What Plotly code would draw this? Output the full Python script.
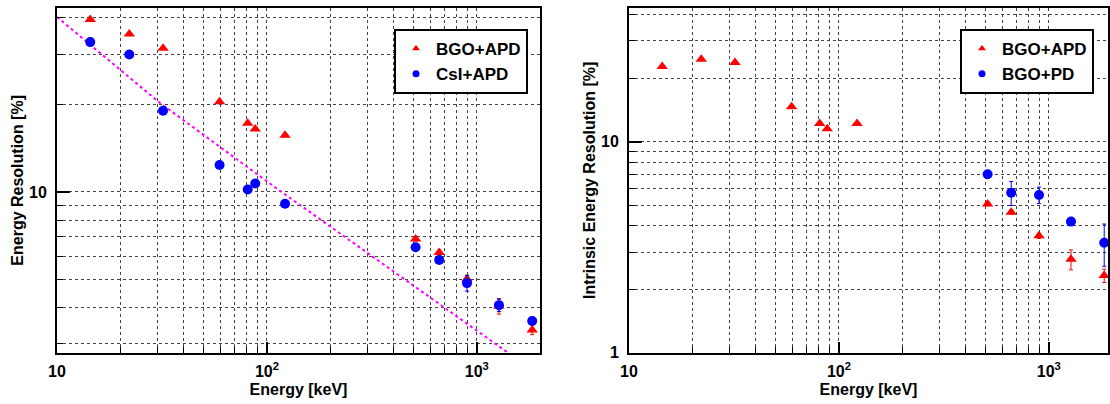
import math
import plotly.graph_objects as go

# ---------------- data ----------------
energy = [14.4, 22.1, 32.0, 59.5, 81.0, 88.0, 122.0, 511.0, 662.0, 898.0, 1275.0, 1836.0]

# left panel: energy resolution [%]
left_bgo_apd = [39.5, 35.2, 31.4, 20.5, 17.3, 16.5, 15.7, 6.88, 6.17, 5.0, 4.03, 3.33]
left_bgo_apd_err = [0.3, 0.3, 0.3, 0.2, 0.15, 0.15, 0.15, 0.12, 0.12, 0.15, 0.25, 0.12]
left_csi_apd = [33.0, 29.9, 19.1, 12.4, 10.2, 10.7, 9.1, 6.44, 5.82, 4.84, 4.06, 3.58]
left_csi_apd_err = [0.3, 0.25, 0.2, 0.15, 0.1, 0.1, 0.1, 0.1, 0.1, 0.3, 0.2, 0.1]

# reference curve (dotted magenta)
fit_energy = [10.0, 31.0, 111.0, 299.0, 998.0, 1406.0]
fit_res = [40.3, 20.3, 10.3, 6.17, 3.33, 2.78]

# right panel: intrinsic energy resolution [%]
right_bgo_apd = [22.7, 24.6, 23.7, 14.65, 12.2, 11.5, 12.2, 5.07, 4.63, 3.58, 2.77, 2.32]
right_bgo_apd_err = [0.3, 0.3, 0.3, 0.2, 0.15, 0.15, 0.15, 0.1, 0.1, 0.1, 0.3, 0.17]
energy_pd = [511.0, 662.0, 898.0, 1275.0, 1836.0]
right_bgo_pd = [7.01, 5.73, 5.59, 4.18, 3.32]
right_bgo_pd_err = [0.2, 0.75, 0.5, 0.1, 0.75]

x_major = [10, 100, 1000]
x_major_text = ["10", "10<sup>2</sup>", "10<sup>3</sup>"]
x_minor = [20, 30, 40, 50, 60, 70, 80, 90, 200, 300, 400, 500, 600, 700, 800, 900, 2000]
y_left_major = [10]
y_left_major_text = ["10"]
y_left_minor = [3, 4, 5, 6, 7, 8, 9, 20, 30, 40]
y_right_major = [1, 10]
y_right_major_text = ["1", "10"]
y_right_minor = [2, 3, 4, 5, 6, 7, 8, 9, 20, 30, 40]

RED = "#ff0000"
BLUE = "#0000ff"
FONT = "Liberation Sans, Arial, sans-serif"
W, H = 1110, 404


def bold(size):
    return dict(size=size, family=FONT, color="black", weight=700)


fig = go.Figure()

# left panel
fig.add_trace(go.Scatter(x=fit_energy, y=fit_res, mode="lines",
                         line=dict(color="#ff00ff", width=2, dash="dot"),
                         showlegend=False, xaxis="x", yaxis="y", hoverinfo="skip"))
fig.add_trace(go.Scatter(x=energy, y=left_bgo_apd, mode="markers", name="BGO+APD",
                         marker=dict(symbol="triangle-up", color=RED, size=10),
                         error_y=dict(type="data", array=left_bgo_apd_err, color=RED, thickness=1, width=2),
                         xaxis="x", yaxis="y", showlegend=False))
fig.add_trace(go.Scatter(x=energy, y=left_csi_apd, mode="markers", name="CsI+APD",
                         marker=dict(symbol="circle", color=BLUE, size=10),
                         error_y=dict(type="data", array=left_csi_apd_err, color=BLUE, thickness=1, width=2),
                         xaxis="x", yaxis="y", showlegend=False))
# legend entries (small markers as in the original)
fig.add_trace(go.Scatter(x=[None], y=[None], mode="markers", name="BGO+APD",
                         marker=dict(symbol="triangle-up", color=RED, size=7),
                         xaxis="x", yaxis="y", legend="legend"))
fig.add_trace(go.Scatter(x=[None], y=[None], mode="markers", name="CsI+APD",
                         marker=dict(symbol="circle", color=BLUE, size=7),
                         xaxis="x", yaxis="y", legend="legend"))

# right panel
fig.add_trace(go.Scatter(x=energy, y=right_bgo_apd, mode="markers", name="BGO+APD",
                         marker=dict(symbol="triangle-up", color=RED, size=10),
                         error_y=dict(type="data", array=right_bgo_apd_err, color=RED, thickness=1, width=2),
                         xaxis="x2", yaxis="y2", showlegend=False))
fig.add_trace(go.Scatter(x=energy_pd, y=right_bgo_pd, mode="markers", name="BGO+PD",
                         marker=dict(symbol="circle", color=BLUE, size=10),
                         error_y=dict(type="data", array=right_bgo_pd_err, color=BLUE, thickness=1, width=2),
                         xaxis="x2", yaxis="y2", showlegend=False))
fig.add_trace(go.Scatter(x=[None], y=[None], mode="markers", name="BGO+APD",
                         marker=dict(symbol="triangle-up", color=RED, size=7),
                         xaxis="x2", yaxis="y2", legend="legend2"))
fig.add_trace(go.Scatter(x=[None], y=[None], mode="markers", name="BGO+PD",
                         marker=dict(symbol="circle", color=BLUE, size=7),
                         xaxis="x2", yaxis="y2", legend="legend2"))

grid = dict(showgrid=True, gridcolor="#444444", griddash="dot", gridwidth=1)


def xaxis(domain, anchor, xmax):
    return dict(type="log", domain=domain, anchor=anchor, automargin=False,
                range=[1, math.log10(xmax)],
                tickmode="array", tickvals=x_major, ticktext=x_major_text,
                ticks="inside", ticklen=11, tickwidth=2, tickcolor="black",
                ticklabelstandoff=3,
                minor=dict(tickmode="array", tickvals=x_minor, ticks="inside", ticklen=6,
                           tickwidth=1, tickcolor="black", **grid),
                showline=True, linecolor="black", linewidth=2, mirror=True,
                zeroline=False,
                title=dict(text="Energy [keV]", font=bold(16), standoff=5),
                tickfont=bold(16),
                **grid)


def yaxis(domain, anchor, yrange, major, major_text, minor, title, standoff):
    return dict(type="log", domain=domain, anchor=anchor, automargin=False,
                range=[math.log10(yrange[0]), math.log10(yrange[1])],
                tickmode="array", tickvals=major, ticktext=major_text,
                ticks="inside", ticklen=13, tickwidth=2, tickcolor="black",
                ticklabelstandoff=5,
                minor=dict(tickmode="array", tickvals=minor, ticks="inside", ticklen=6,
                           tickwidth=1, tickcolor="black", **grid),
                showline=True, linecolor="black", linewidth=2, mirror=True,
                zeroline=False,
                title=dict(text=title, font=bold(16), standoff=standoff),
                tickfont=bold(16),
                **grid)


ydom = [1 - 352.7 / H, 1 - 8 / H]
fig.update_layout(
    width=W, height=H,
    margin=dict(l=0, r=0, t=0, b=0, autoexpand=False),
    paper_bgcolor="white", plot_bgcolor="white",
    font=bold(16),
    xaxis=xaxis([57 / W, 540 / W], "y", 2000),
    yaxis=yaxis(ydom, "x", [2.78, 43.3], y_left_major, y_left_major_text, y_left_minor,
                "Energy Resolution [%]", 1),
    xaxis2=xaxis([629 / W, 1108 / W], "y2", 1914),
    yaxis2=yaxis(ydom, "x2", [1.0, 43.0], y_right_major, y_right_major_text, y_right_minor,
                 "Intrinsic Energy Resolution [%]", 1),
    legend=dict(x=394 / W, y=1 - 29 / H, xanchor="left", yanchor="top",
                bgcolor="white", bordercolor="black", borderwidth=2,
                font=bold(17), itemwidth=30, tracegroupgap=0),
    legend2=dict(x=960 / W, y=1 - 29 / H, xanchor="left", yanchor="top",
                 bgcolor="white", bordercolor="black", borderwidth=2,
                 font=bold(17), itemwidth=30, tracegroupgap=0),
)

fig.write_html("out.html")
